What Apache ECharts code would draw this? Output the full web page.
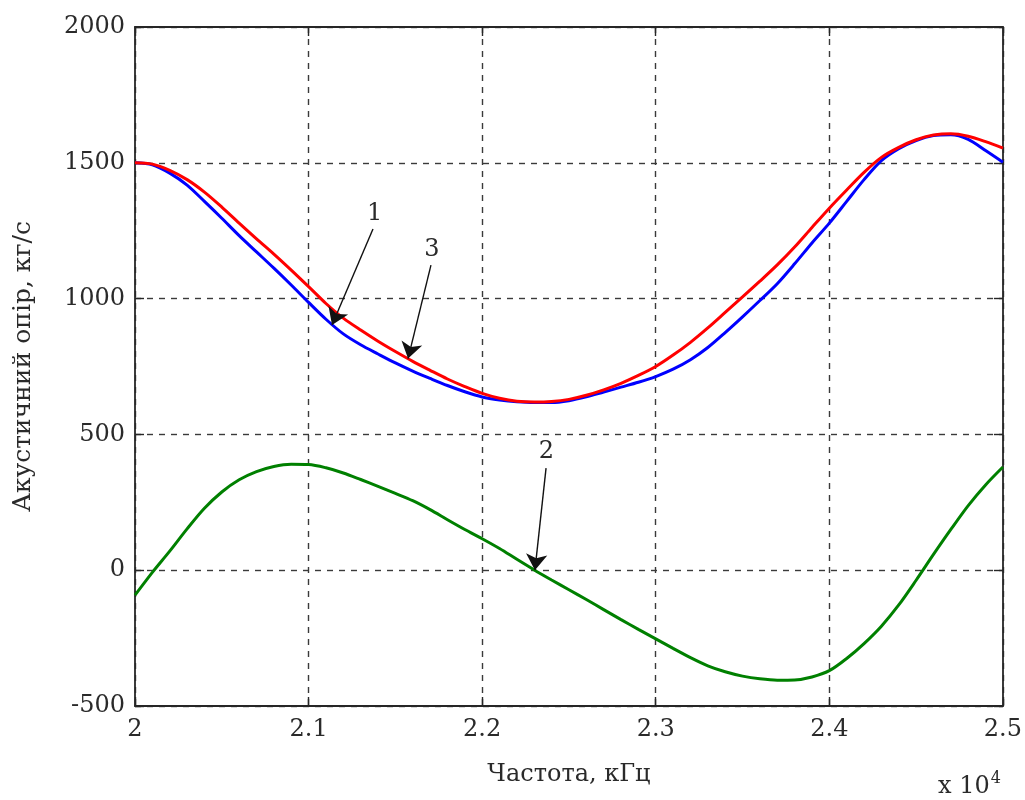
<!DOCTYPE html>
<html>
<head>
<meta charset="utf-8">
<script src="https://cdn.jsdelivr.net/npm/echarts@6/dist/echarts.min.js"></script>
<style>
  html, body { margin: 0; padding: 0; background: #fff; }
  #chart { width: 1025px; height: 800px; }
</style>
</head>
<body>
<div id="chart"></div>
<script>
// Frequency, x 10^4 Hz
const freq = [
  2.00, 2.01, 2.02, 2.03, 2.04, 2.05, 2.06, 2.07, 2.08, 2.09,
  2.10, 2.11, 2.12, 2.13, 2.14, 2.15, 2.16, 2.17, 2.18, 2.19,
  2.20, 2.21, 2.22, 2.23, 2.24, 2.25, 2.26, 2.27, 2.28, 2.29,
  2.30, 2.31, 2.32, 2.33, 2.34, 2.35, 2.36, 2.37, 2.38, 2.39,
  2.40, 2.41, 2.42, 2.43, 2.44, 2.45, 2.46, 2.47, 2.48, 2.49,
  2.50
];

// Curve 1 (blue)
const curve1 = [
  1500, 1493, 1462, 1418, 1358, 1296, 1232, 1172, 1112, 1050,
  986, 924, 870, 830, 796, 763, 733, 706, 680, 657,
  638, 627, 620, 617, 617, 624, 638, 656, 674, 692,
  713, 740, 775, 820, 875, 933, 993, 1055, 1128, 1205,
  1278, 1358, 1438, 1508, 1552, 1582, 1600, 1603, 1586, 1545,
  1502
];

// Curve 3 (red)
const curve3 = [
  1500, 1495, 1472, 1438, 1392, 1337, 1278, 1220, 1164, 1105,
  1044, 982, 928, 884, 843, 805, 769, 736, 704, 676,
  651, 633, 622, 619, 621, 629, 644, 664, 688, 717,
  750, 792, 839, 892, 949, 1006, 1064, 1124, 1190, 1262,
  1333, 1400, 1465, 1520, 1557, 1585, 1602, 1607, 1598, 1578,
  1554
];

// Curve 2 (green)
const curve2 = [
  -92, -8, 70, 152, 228, 288, 333, 363, 382, 390,
  389, 377, 358, 334, 309, 283, 256, 223, 186, 150,
  116, 80, 40, 1, -36, -72, -108, -145, -182, -218,
  -253, -288, -322, -352, -374, -390, -400, -405, -404, -393,
  -370, -325, -270, -206, -128, -37, 58, 150, 238, 314,
  380
];

// Axis ticks
const xTicks = [2.0, 2.1, 2.2, 2.3, 2.4, 2.5];
const yTicks = [-500, 0, 500, 1000, 1500, 2000];

// Numbered callouts: label, start of the leader, arrow tip
const notes = [
  { text: '1', from: [2.1371, 1256], to: [2.1135, 903] },
  { text: '3', from: [2.1705, 1123], to: [2.1573, 779] },
  { text: '2', from: [2.2368, 376], to: [2.2304, 0] }
];

const FONT = 'DejaVu Serif';
const TXT = '#2a2a2a';
const AX = '#262626';

function pairs(ys) { return freq.map((x, i) => [x, ys[i]]); }

const gridLine = { show: true, lineStyle: { color: '#3a3a3a', width: 1.4, type: [6, 6] } };
const tickIn = { show: true, inside: true, length: 9, lineStyle: { color: AX, width: 1.4 } };
const axLine = { show: true, onZero: false, lineStyle: { color: AX, width: 1.8 } };

const xBase = {
  type: 'value', min: xTicks[0], max: xTicks[xTicks.length - 1],
  interval: 0.1
};
const yBase = {
  type: 'value', min: yTicks[0], max: yTicks[yTicks.length - 1],
  interval: 500
};

const chart = echarts.init(document.getElementById('chart'), null, { renderer: 'canvas' });

chart.setOption({
  animation: false,
  backgroundColor: '#ffffff',
  grid: { left: 135, right: 22, top: 27, bottom: 94 },
  xAxis: [
    Object.assign({}, xBase, {
      position: 'bottom',
      name: 'Частота, кГц',
      nameLocation: 'middle',
      nameGap: 57,
      nameTextStyle: { fontFamily: FONT, fontSize: 24, color: TXT },
      axisLine: axLine, axisTick: tickIn, splitLine: gridLine,
      axisLabel: {
        show: true, margin: 12, fontFamily: FONT, fontSize: 24, color: TXT,
        showMinLabel: true, showMaxLabel: true,
        formatter: v => (Math.abs(v - 2) < 1e-9 ? '2' : v.toFixed(1))
      }
    }),
    Object.assign({}, xBase, {
      position: 'top',
      axisLine: axLine, axisTick: tickIn,
      splitLine: { show: false }, axisLabel: { show: false }
    })
  ],
  yAxis: [
    Object.assign({}, yBase, {
      position: 'left',
      name: 'Акустичний опір, кг/с',
      nameLocation: 'middle',
      nameRotate: 90,
      nameGap: 99,
      nameTextStyle: { fontFamily: FONT, fontSize: 25, color: TXT },
      axisLine: axLine, axisTick: tickIn, splitLine: gridLine,
      axisLabel: {
        show: true, margin: 10, fontFamily: FONT, fontSize: 24, color: TXT,
        showMinLabel: true, showMaxLabel: true,
        formatter: v => String(v)
      }
    }),
    Object.assign({}, yBase, {
      position: 'right',
      axisLine: axLine, axisTick: tickIn,
      splitLine: { show: false }, axisLabel: { show: false }
    })
  ],
  series: [
    {
      name: '1', type: 'line', data: pairs(curve1),
      showSymbol: false, smooth: 0.3,
      lineStyle: { color: '#0000ff', width: 3 }, z: 3,
      markLine: {
        silent: true,
        symbol: ['none', 'arrow'],
        symbolSize: 16,
        lineStyle: { color: '#111', width: 1.4, type: 'solid' },
        label: {
          show: true, position: 'start', distance: 4,
          fontFamily: FONT, fontSize: 24, color: TXT,
          formatter: p => p.data.text
        },
        data: notes.map(n => [
          { coord: n.from, text: n.text },
          { coord: n.to, text: n.text }
        ])
      }
    },
    {
      name: '3', type: 'line', data: pairs(curve3),
      showSymbol: false, smooth: 0.3,
      lineStyle: { color: '#ff0000', width: 3 }, z: 4
    },
    {
      name: '2', type: 'line', data: pairs(curve2),
      showSymbol: false, smooth: 0.3,
      lineStyle: { color: '#008000', width: 3 }, z: 4
    }
  ],
  graphic: [
    {
      type: 'text', right: 24, bottom: 1,
      style: {
        text: 'x 10{s|4}',
        fontFamily: FONT, fontSize: 24, fill: TXT,
        rich: { s: { fontFamily: FONT, fontSize: 16, fill: TXT, verticalAlign: 'top', padding: [0, 0, 16, 1] } }
      }
    }
  ]
});
</script>
</body>
</html>
